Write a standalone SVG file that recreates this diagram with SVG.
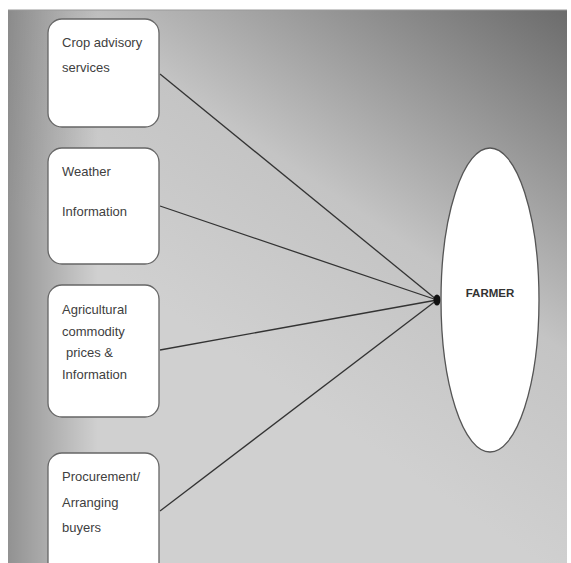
<svg xmlns="http://www.w3.org/2000/svg" width="571" height="563" viewBox="0 0 571 563">
<defs>
<linearGradient id="bg" gradientUnits="userSpaceOnUse" x1="565" y1="10" x2="300" y2="400">
<stop offset="0" stop-color="#6c6c6c"/>
<stop offset="0.6" stop-color="#c4c4c4"/>
<stop offset="1" stop-color="#d0d0d0"/>
</linearGradient>
<linearGradient id="shade" x1="0" y1="0" x2="1" y2="0">
<stop offset="0" stop-color="#000" stop-opacity="0.3"/>
<stop offset="0.5" stop-color="#000" stop-opacity="0.15"/>
<stop offset="1" stop-color="#000" stop-opacity="0"/>
</linearGradient>
</defs>
<style>
.box{fill:#fff;stroke:#666;stroke-width:1.3}
.t{font-family:"Liberation Sans",Arial,sans-serif;font-size:13px;fill:#404040}
.b{font-family:"Liberation Sans",Arial,sans-serif;font-size:11.5px;font-weight:bold;fill:#333}
.c{stroke:#333;stroke-width:1.3;fill:none}
</style>
<rect x="0" y="0" width="571" height="563" fill="#fff"/>
<rect x="8" y="10" width="559" height="560" fill="url(#bg)"/>
<rect x="8" y="10" width="90" height="560" fill="url(#shade)"/>
<line x1="8" y1="10" x2="567" y2="10" stroke="#999" stroke-width="1"/>
<g id="connectors">
<line class="c" x1="160" y1="74" x2="437" y2="300"/>
<line class="c" x1="160" y1="206" x2="437" y2="300"/>
<line class="c" x1="160" y1="350" x2="437" y2="300"/>
<line class="c" x1="160" y1="511" x2="437" y2="300"/>
<ellipse cx="437" cy="300" rx="3.5" ry="5.5" fill="#111"/>
</g>
<g id="crop">
<rect class="box" x="48" y="19" width="111" height="108" rx="14"/>
<text class="t" x="62" y="47">Crop advisory</text>
<text class="t" x="62" y="72">services</text>
</g>
<g id="weather">
<rect class="box" x="48" y="148" width="111" height="116" rx="14"/>
<text class="t" x="62" y="176">Weather</text>
<text class="t" x="62" y="216">Information</text>
</g>
<g id="prices">
<rect class="box" x="48" y="285" width="111" height="132" rx="14"/>
<text class="t" x="62" y="314">Agricultural</text>
<text class="t" x="62" y="336">commodity</text>
<text class="t" x="66" y="357">prices &amp;</text>
<text class="t" x="62" y="379">Information</text>
</g>
<g id="procurement">
<rect class="box" x="48" y="453" width="111" height="125" rx="14"/>
<text class="t" x="62" y="481">Procurement/</text>
<text class="t" x="62" y="507">Arranging</text>
<text class="t" x="62" y="532">buyers</text>
</g>
<g id="farmer">
<ellipse cx="490" cy="300" rx="49" ry="152" fill="#fff" stroke="#555" stroke-width="1.3"/>
<text class="b" x="490" y="297" text-anchor="middle">FARMER</text>
</g>
</svg>
